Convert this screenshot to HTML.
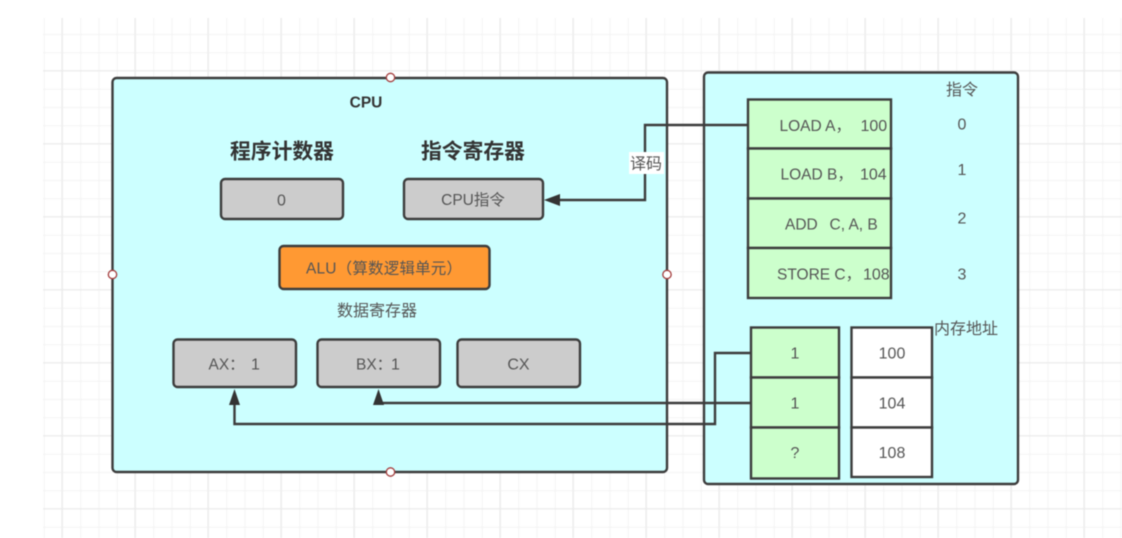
<!DOCTYPE html>
<html><head><meta charset="utf-8">
<style>
html,body{margin:0;padding:0;background:#fff;width:1122px;height:538px;overflow:hidden}
svg{display:block;filter:blur(.4px)}
text{font-family:"Liberation Sans","Noto Sans CJK SC",sans-serif;font-size:16px;fill:#555;text-anchor:middle}
text.s{text-anchor:start}
.b{font-weight:700;fill:#333}
.box{stroke:#3c3c3c;stroke-width:2.4}
.ln{fill:none;stroke:#3c3c3c;stroke-width:2.4}
.h{fill:#fff;stroke:#a33c3c;stroke-width:1.3}
</style></head><body>
<svg width="1122" height="538" viewBox="0 0 1122 538" xmlns="http://www.w3.org/2000/svg">
<defs>
<pattern id="g" x="43.75" y="15.75" width="73" height="73" patternUnits="userSpaceOnUse">
<path d="M0.5 0V73M18.75 0V73M37 0V73M55.25 0V73M0 0.5H73M0 18.75H73M0 37H73M0 55.25H73" stroke="#f3f3f3" stroke-width="1" fill="none"/>
<path d="M18.25 0V73M0 55H73" stroke="#e9e9e9" stroke-width="1" fill="none"/>
</pattern>
</defs>
<rect x="43" y="18" width="1079" height="520" fill="url(#g)"/>

<rect class="box" x="112.5" y="78" width="554.5" height="394" rx="4" fill="#ccffff"/>
<rect class="box" x="704" y="72.5" width="314" height="411.5" rx="4" fill="#ccffff"/>

<text class="b" x="366" y="107.5" style="font-size:15.5px">CPU</text>
<text class="b" x="282" y="158.5" style="font-size:20.8px">程序计数器</text>
<text class="b" x="473" y="158.5" style="font-size:20.8px">指令寄存器</text>

<rect class="box" x="221" y="179" width="122" height="40" rx="4" fill="#cccccc"/>
<text x="281.5" y="205.5">0</text>
<rect class="box" x="404" y="179" width="139" height="40" rx="4" fill="#cccccc"/>
<text x="473" y="205" style="font-size:15.5px">CPU指令</text>
<rect class="box" x="279.5" y="246" width="210" height="43" rx="4" fill="#ff9933"/>
<text x="384" y="273.5" style="font-size:15.5px" textLength="156" lengthAdjust="spacing">ALU（算数逻辑单元）</text>
<text x="377" y="316">数据寄存器</text>
<rect class="box" x="173.5" y="339.5" width="122.5" height="47.5" rx="4" fill="#cccccc"/>
<text class="s" x="208.5" y="369.5" style="font-size:15.5px">AX：</text>
<text class="s" x="251" y="369.5">1</text>
<rect class="box" x="317.5" y="339.5" width="122.5" height="47.5" rx="4" fill="#cccccc"/>
<text class="s" x="356" y="369.5" style="font-size:15.5px">BX：</text>
<text class="s" x="391" y="369.5">1</text>
<rect class="box" x="457.5" y="339.5" width="122.5" height="47.5" rx="4" fill="#cccccc"/>
<text x="518.5" y="369.5">CX</text>

<path class="ln" d="M748 125H645V200H558"/>
<polygon points="544,200 560,194 560,206" fill="#333"/>
<path class="ln" d="M751 353H715V424H234.5V403"/>
<polygon points="234.5,389 229,405 240,405" fill="#333"/>
<path class="ln" d="M751 403H378.5"/>
<polygon points="378.5,389 373,405 384,405" fill="#333"/>

<rect x="629" y="152" width="35" height="22" fill="#fff"/>
<text x="646" y="169">译码</text>

<g fill="#ccffcc">
<rect class="box" x="748" y="99.5" width="143" height="49"/>
<rect class="box" x="748" y="148.5" width="143" height="50"/>
<rect class="box" x="748" y="198.5" width="143" height="49.5"/>
<rect class="box" x="748" y="248" width="143" height="50"/>
<rect class="box" x="751" y="327.5" width="88" height="50"/>
<rect class="box" x="751" y="377.5" width="88" height="50"/>
<rect class="box" x="751" y="427.5" width="88" height="51"/>
</g>
<g fill="#ffffff">
<rect class="box" x="851.5" y="327.5" width="80.5" height="50"/>
<rect class="box" x="851.5" y="377.5" width="80.5" height="50"/>
<rect class="box" x="851.5" y="427.5" width="80.5" height="49.5"/>
</g>
<text class="s" x="779.5" y="131" style="font-size:15.5px">LOAD A，</text>
<text class="s" x="860.5" y="131">100</text>
<text class="s" x="780.5" y="179.5" style="font-size:15.5px">LOAD B，</text>
<text class="s" x="860" y="179.5">104</text>
<text class="s" x="785" y="229.5" style="font-size:15.5px">ADD</text>
<text class="s" x="829.5" y="229.5" style="font-size:15.5px">C, A, B</text>
<text class="s" x="777" y="279.5" style="font-size:15.5px">STORE C，</text>
<text class="s" x="863" y="279.5">108</text>
<text x="795" y="358.5">1</text>
<text x="795" y="408.5">1</text>
<text x="795" y="458">?</text>
<text x="892" y="358.5">100</text>
<text x="892" y="408.5">104</text>
<text x="892" y="458">108</text>
<text x="962" y="95">指令</text>
<text x="962" y="129.5">0</text>
<text x="962" y="175">1</text>
<text x="962" y="223.5">2</text>
<text x="962" y="279.5">3</text>
<text x="966" y="334">内存地址</text>

<circle class="h" cx="390.5" cy="77.5" r="4.2"/>
<circle class="h" cx="112.5" cy="274.5" r="4.2"/>
<circle class="h" cx="667" cy="274.5" r="4.2"/>
<circle class="h" cx="390.5" cy="472" r="4.2"/>
</svg>
</body></html>
